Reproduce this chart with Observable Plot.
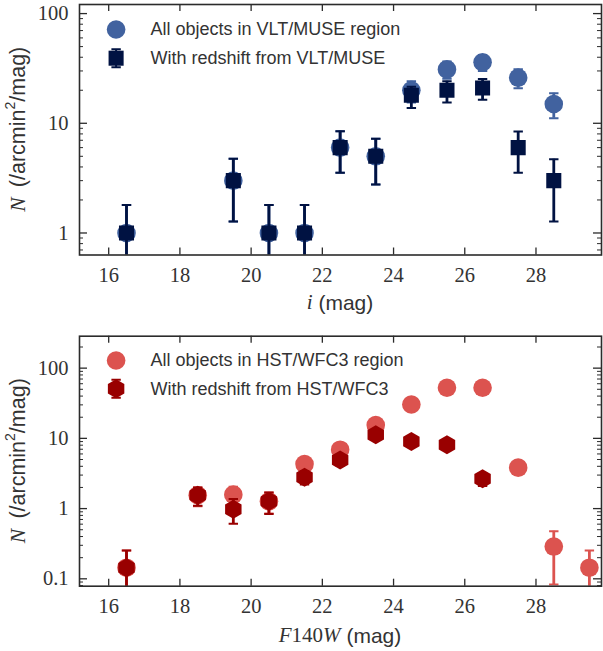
<!DOCTYPE html>
<html><head><meta charset="utf-8">
<script src="https://cdn.jsdelivr.net/npm/d3@7"></script>
<script src="https://cdn.jsdelivr.net/npm/@observablehq/plot@0.6"></script>
<style>
body{margin:0;background:#fff;}
#chart svg{display:block;}
#chart text.ticklab{font-family:'Liberation Serif','DejaVu Serif',serif !important;}
</style></head><body><div id="chart"></div>
<script>
// ---------- Top panel (VLT/MUSE, i band) ----------
const magTop = [16.5, 19.5, 20.5, 21.5, 22.5, 23.5, 24.5, 25.5, 26.5, 27.5, 28.5];
const allMuse   = [1, 3, 1, 1, 6, 5, 20, 31, 36, 26, 15];
const allMuseLo = [0.1, 1.27, 0.1, 0.1, 3.55, 2.76, 15.5, 25.4, 30, 20.9, 11.1];
const allMuseHi = [1.8, 4.75, 1.8, 1.8, 8.45, 7.24, 24.2, 36.6, 42, 31.1, 18.8];
const zMuse   = [1, 3, 1, 1, 6, 5, 18, 20, 21, 6, 3];
const zMuseLo = [0.1, 1.27, 0.1, 0.1, 3.55, 2.76, 13.8, 15.5, 16.4, 3.55, 1.27];
const zMuseHi = [1.8, 4.75, 1.8, 1.8, 8.45, 7.24, 21.5, 24.2, 25.3, 8.4, 4.7];

// ---------- Bottom panel (HST/WFC3, F140W) ----------
const magBotAll = [16.5, 18.5, 19.5, 20.5, 21.5, 22.5, 23.5, 24.5, 25.5, 26.5, 27.5, 28.5, 29.5];
const allWfc   = [0.144, 1.55, 1.58, 1.27, 4.3, 6.9, 15.5, 30.4, 52.6, 52.6, 3.83, 0.288, 0.144];
const allWfcLo = [0.01, 1.08, 1.1, 0.85, 3.5, 5.9, 14, 28.3, 49.9, 49.9, 3.1, 0.083, 0.01];
const allWfcHi = [0.253, 2.0, 2.05, 1.7, 5.1, 7.9, 17, 32.5, 55.3, 55.3, 4.6, 0.476, 0.253];
const magBotZ = [16.5, 18.5, 19.5, 20.5, 21.5, 22.5, 23.5, 24.5, 25.5, 26.5];
const zWfc   = [0.144, 1.55, 0.98, 1.27, 2.79, 4.9, 11.3, 9.06, 8.13, 2.67];
const zWfcLo = [0.01, 1.1, 0.61, 0.84, 2.2, 4.1, 10.1, 8.0, 7.1, 2.1];
const zWfcHi = [0.253, 2.0, 1.37, 1.7, 3.4, 5.7, 12.5, 10.1, 9.1, 3.2];

// ---------- Axis ticks & labels ----------
const xTicks = [16, 18, 20, 22, 24, 26, 28];
const yTicksTop = [1, 10, 100];
const yTicksBot = [0.1, 1, 10, 100];
const legendTop = ["All objects in VLT/MUSE region", "With redshift from VLT/MUSE"];
const legendBot = ["All objects in HST/WFC3 region", "With redshift from HST/WFC3"];

// ---------- Styling ----------
const W = 603, ML = 79, MR = 2;
const innerW = W - ML - MR;
const FRAME = "#2b2b2b";
const TXT = "#333";
const serif = "'Liberation Serif', 'DejaVu Serif', serif";
const sans = "'Liberation Sans', 'DejaVu Sans', sans-serif";

const capSymbol = {draw(ctx, size) { const r = Math.sqrt(size / Math.PI); ctx.moveTo(-r, 0); ctx.lineTo(r, 0); }};
const hexSymbol = {draw(ctx, size) {
  const R = Math.sqrt(size / Math.PI);
  for (let i = 0; i < 6; i++) {
    const a = -Math.PI / 2 + i * Math.PI / 3;
    const x = R * Math.cos(a), y = R * Math.sin(a);
    if (i) ctx.lineTo(x, y); else ctx.moveTo(x, y);
  }
  ctx.closePath();
}};
const legendErr = {draw(ctx, size) {
  const h = Math.sqrt(size / Math.PI), c = 4.7;
  ctx.moveTo(0, -h); ctx.lineTo(0, h);
  ctx.moveTo(-c, -h); ctx.lineTo(c, -h);
  ctx.moveTo(-c, h); ctx.lineTo(c, h);
}};

function rows(xs, ys, lo, hi) { return xs.map((x, i) => ({x, y: ys[i], lo: lo[i], hi: hi[i]})); }

function minorTicks(domain) {
  const out = [];
  for (let e = -3; e <= 3; e++) for (let m = 2; m <= 9; m++) {
    const v = m * Math.pow(10, e);
    if (v >= domain[0] && v <= domain[1]) out.push(v);
  }
  return out;
}

function errMarks(data, color) {
  return [
    Plot.ruleX(data, {x: "x", y1: "lo", y2: "hi", stroke: color, strokeWidth: 2.8, clip: true}),
    Plot.dot(data, {x: "x", y: "hi", symbol: capSymbol, r: 4.7, stroke: color, strokeWidth: 2, fill: "none", clip: true}),
    Plot.dot(data, {x: "x", y: "lo", symbol: capSymbol, r: 4.7, stroke: color, strokeWidth: 2, fill: "none", clip: true})
  ];
}

const chart = document.getElementById("chart");
function makePanel(cfg) {
  const innerH = cfg.height - cfg.mt - cfg.mb;
  const svg = Plot.plot({
    width: W, height: cfg.height,
    marginLeft: ML, marginRight: MR, marginTop: cfg.mt, marginBottom: cfg.mb,
    style: {fontSize: "20.5px", fontFamily: serif, color: TXT, background: "#fff", overflow: "visible"},
    x: {domain: [15.18, 29.84], ticks: xTicks, tickSize: 0, tickPadding: 12, label: null, tickFormat: d => String(d)},
    y: {type: "log", domain: cfg.ydomain, ticks: cfg.yticks, tickSize: 0, tickPadding: 11, label: null, tickFormat: d => String(d)},
    marks: [
      Plot.ruleX(xTicks, {x: d => d, insetTop: innerH - 7, stroke: FRAME, strokeWidth: 1.3}),
      Plot.ruleX(xTicks, {x: d => d, insetBottom: innerH - 7, stroke: FRAME, strokeWidth: 1.3}),
      Plot.ruleY(cfg.yticks, {y: d => d, insetRight: innerW - 8, stroke: FRAME, strokeWidth: 1.3}),
      Plot.ruleY(cfg.yticks, {y: d => d, insetLeft: innerW - 8, stroke: FRAME, strokeWidth: 1.3}),
      Plot.ruleY(minorTicks(cfg.ydomain), {y: d => d, insetRight: innerW - 4, stroke: FRAME, strokeWidth: 1}),
      Plot.ruleY(minorTicks(cfg.ydomain), {y: d => d, insetLeft: innerW - 4, stroke: FRAME, strokeWidth: 1}),
      ...errMarks(cfg.a, cfg.colA),
      Plot.dot(cfg.a, {x: "x", y: "y", r: 9.3, fill: cfg.colA, symbol: "circle", clip: true}),
      ...errMarks(cfg.b, cfg.colB),
      Plot.dot(cfg.b, {x: "x", y: "y", r: cfg.rB, fill: cfg.colB, symbol: cfg.symB, clip: true}),
      Plot.dot(cfg.legend.slice(0, 1), {frameAnchor: "top-left", dx: 36.6, dy: cfg.ly1, r: 9.3, fill: cfg.colA, symbol: "circle"}),
      Plot.dot(cfg.legend.slice(1, 2), {frameAnchor: "top-left", dx: 36.6, dy: cfg.ly2, r: 9, stroke: cfg.colB, strokeWidth: 2, fill: "none", symbol: legendErr}),
      Plot.dot(cfg.legend.slice(1, 2), {frameAnchor: "top-left", dx: 36.6, dy: cfg.ly2, r: cfg.rB, fill: cfg.colB, symbol: cfg.symB}),
      Plot.text(cfg.legend.slice(0, 1), {frameAnchor: "top-left", dx: 71, dy: cfg.ly1, text: d => d, textAnchor: "start", lineAnchor: "middle", fontSize: 18, fontFamily: sans, fill: TXT}),
      Plot.text(cfg.legend.slice(1, 2), {frameAnchor: "top-left", dx: 71, dy: cfg.ly2, text: d => d, textAnchor: "start", lineAnchor: "middle", fontSize: 18, fontFamily: sans, fill: TXT}),
      Plot.frame({stroke: FRAME, strokeWidth: 1.6})
    ]
  });
  const s = d3.select(svg);
  // force serif on the numeric tick labels
  s.selectAll("text").filter(function() { return /^[0-9.]+$/.test(this.textContent.trim()); })
    .classed("ticklab", true).attr("font-family", serif).style("font-family", serif);
  const yc = cfg.mt + innerH / 2;
  // y label
  const yl = s.append("text")
    .attr("transform", `translate(18,${yc}) rotate(-90)`)
    .attr("text-anchor", "middle").attr("dominant-baseline", "central")
    .attr("fill", TXT).style("font-size", "21.5px");
  yl.append("tspan").style("font-family", serif).style("font-style", "italic").text("N");
  yl.append("tspan").style("font-family", sans).text("\u2009 (/arcmin");
  yl.append("tspan").style("font-family", sans).style("font-size", "14px").attr("dy", "-0.55em").text("2");
  yl.append("tspan").style("font-family", sans).attr("dy", "0.36em").text("/mag)");
  // x label
  const xl = s.append("text")
    .attr("x", ML + innerW / 2).attr("y", cfg.height - cfg.mb + cfg.xly)
    .attr("text-anchor", "middle").attr("dominant-baseline", "central")
    .attr("fill", TXT).style("font-size", "21px");
  cfg.xlabel.forEach(p => xl.append("tspan").style("font-family", p.f === "s" ? sans : serif).style("font-style", p.i ? "italic" : "normal").text(p.t));
  chart.appendChild(svg);
}

makePanel({
  height: 325, mt: 4, mb: 70.5, ydomain: [0.63, 121], yticks: yTicksTop,
  a: rows(magTop, allMuse, allMuseLo, allMuseHi), b: rows(magTop, zMuse, zMuseLo, zMuseHi),
  colA: "#41629f", colB: "#001242", symB: "square", rB: 8.5,
  legend: legendTop, ly1: 25, ly2: 53.7, xly: 47.5,
  xlabel: [{t: "i", i: true}, {t: " (mag)", f: "s"}]
});
makePanel({
  height: 326, mt: 10.7, mb: 65.3, ydomain: [0.0785, 285], yticks: yTicksBot,
  a: rows(magBotAll, allWfc, allWfcLo, allWfcHi), b: rows(magBotZ, zWfc, zWfcLo, zWfcHi),
  colA: "#dc534f", colB: "#990000", symB: hexSymbol, rB: 9.5,
  legend: legendBot, ly1: 24.3, ly2: 52.6, xly: 49.3,
  xlabel: [{t: "F", i: true}, {t: "140"}, {t: "W", i: true}, {t: " (mag)", f: "s"}]
});
</script>
</body></html>
